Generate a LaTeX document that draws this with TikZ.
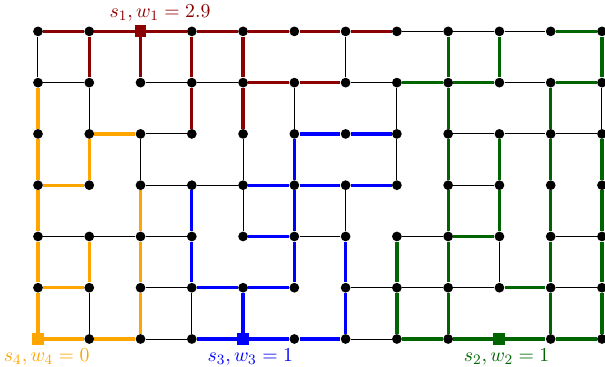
\documentclass[tikz,border=0pt]{standalone}
\usetikzlibrary{backgrounds}
\definecolor{tred}{RGB}{139,0,0}
\definecolor{torange}{RGB}{255,165,0}
\definecolor{tblue}{RGB}{0,0,255}
\definecolor{tgreen}{RGB}{0,100,0}
\begin{document}
\begin{tikzpicture}[dot/.style={circle,fill=black,inner sep=0pt,minimum size=5.4pt},src/.style={rectangle,inner sep=0pt,minimum size=6.6pt},edge/.style={line width=0.55pt},tree/.style={line width=1.8pt},every label/.style={font=\fontsize{11}{13}\selectfont,inner sep=2pt}]
	\useasboundingbox (-0.741,-0.546) rectangle (11.059,6.612);
	\foreach \x in {0,...,11}
		\foreach \y in {0,...,6}
			\node[dot] (n\x-\y) at (\x,\y) {};
	\node[src,fill=tred,label={[text=tred,xshift=3.8mm]above:{$s_1, w_1 = 2.9$}}] (s1) at (n2-6) {};
	\node[src,fill=tgreen,label={[text=tgreen,xshift=1.4mm]below:{$s_2, w_2 = 1$}}] (s2) at (n9-0) {};
	\node[src,fill=tblue,label={[text=tblue,xshift=1.4mm]below:{$s_3, w_3 = 1$}}] (s3) at (n4-0) {};
	\node[src,fill=torange,label={[text=torange,xshift=1.7mm]below:{$s_4, w_4 = 0$}}] (s4) at (n0-0) {};
	\begin{scope}[on background layer]
		\foreach \a/\b/\c/\d in {0/5/1/5,2/5/3/5,3/5/4/5,6/5/7/5,9/5/10/5,7/6/8/6,8/6/9/6,9/6/10/6,2/4/3/4,8/4/9/4,9/4/10/4,10/4/11/4,2/3/3/3,3/3/4/3,8/3/9/3,0/2/1/2,1/2/2/2,2/2/3/2,5/2/6/2,7/2/8/2,10/2/11/2,2/1/3/1,6/1/7/1,7/1/8/1,8/1/9/1,10/1/11/1,2/0/3/0,6/0/7/0,0/6/0/5,1/5/1/4,1/1/1/0,2/4/2/3,3/1/3/0,4/4/4/3,4/3/4/2,5/5/5/4,6/6/6/5,6/3/6/2,7/5/7/4,7/4/7/3,9/2/9/1,11/5/11/4}
			\draw[edge] (n\a-\b) -- (n\c-\d);
		\foreach \a/\b/\c/\d in {0/6/1/6,1/6/2/6,2/6/3/6,3/6/4/6,4/6/5/6,5/6/6/6,6/6/7/6,1/6/1/5,2/6/2/5,3/6/3/5,3/5/3/4,4/6/4/5,4/5/4/4,4/5/5/5,5/5/6/5}
			\draw[tree,tred] (n\a-\b) -- (n\c-\d);
		\foreach \a/\b/\c/\d in {0/5/0/4,0/4/0/3,0/3/0/2,0/2/0/1,0/1/0/0,1/4/2/4,1/4/1/3,0/3/1/3,2/3/2/2,2/2/2/1,2/1/2/0,1/2/1/1,0/1/1/1,0/0/1/0,1/0/2/0}
			\draw[tree,torange] (n\a-\b) -- (n\c-\d);
		\foreach \a/\b/\c/\d in {5/4/6/4,6/4/7/4,5/4/5/3,5/3/5/2,5/2/5/1,4/3/5/3,5/3/6/3,6/3/7/3,3/3/3/2,3/2/3/1,4/2/5/2,6/2/6/1,6/1/6/0,3/1/4/1,4/1/5/1,4/1/4/0,3/0/4/0,4/0/5/0,5/0/6/0}
			\draw[tree,tblue] (n\a-\b) -- (n\c-\d);
		\foreach \a/\b/\c/\d in {10/6/11/6,8/6/8/5,9/6/9/5,11/6/11/5,7/5/8/5,8/5/9/5,10/5/11/5,8/5/8/4,10/5/10/4,8/4/8/3,9/4/9/3,10/4/10/3,11/4/11/3,8/3/8/2,9/3/9/2,10/3/10/2,11/3/11/2,8/2/9/2,7/2/7/1,8/2/8/1,10/2/10/1,11/2/11/1,9/1/10/1,7/1/7/0,8/1/8/0,10/1/10/0,11/1/11/0,7/0/8/0,8/0/9/0,9/0/10/0,10/0/11/0}
			\draw[tree,tgreen] (n\a-\b) -- (n\c-\d);
	\end{scope}
\end{tikzpicture}
\end{document}
